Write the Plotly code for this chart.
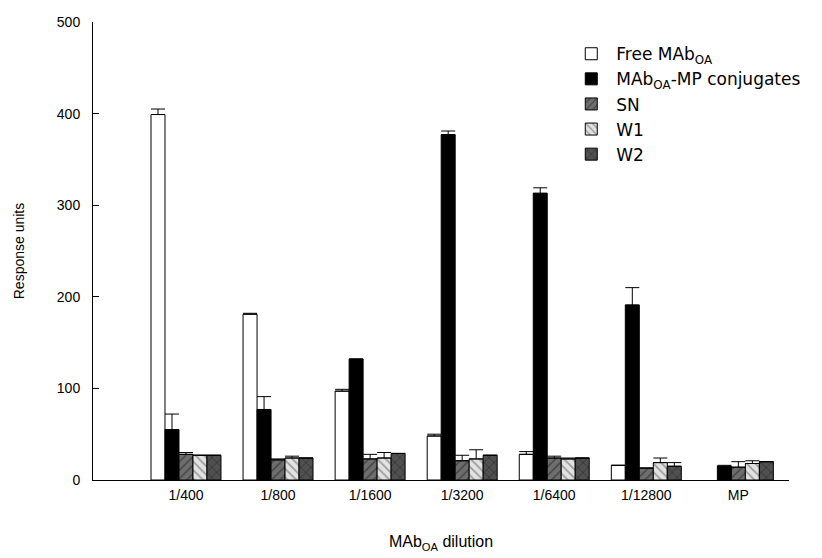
import plotly.graph_objects as go

# Dilutions of the monoclonal antibody (plus the MP control)
categories = ["1/400", "1/800", "1/1600", "1/3200", "1/6400", "1/12800", "MP"]

free_mab = [399, 181, 97, 48, 28, 16, None]
free_mab_err = [6, 1, 2, 2, 3, 0, 0]

conjugates = [55, 77, 132, 377, 313, 191, 15]
conjugates_err = [17, 14, 0, 4, 6, 19, 1]

sn = [28, 22, 23, 21, 24, 13, 14]
sn_err = [2, 1, 5, 6, 2, 0, 6]

w1 = [27, 24, 24, 23, 23, 19, 18]
w1_err = [0, 2, 6, 10, 1, 5, 3]

w2 = [27, 24, 29, 27, 24, 15, 20]
w2_err = [0, 0, 0, 0, 0, 4, 0]

series = [
    ("Free MAb<sub>OA</sub>", free_mab, free_mab_err,
     dict(color="white", pattern=dict(shape=""))),
    ("MAb<sub>OA</sub>-MP conjugates", conjugates, conjugates_err,
     dict(color="black", pattern=dict(shape=""))),
    ("SN", sn, sn_err,
     dict(color="#6e6e6e", pattern=dict(shape="/", fgcolor="#1a1a1a",
                                        bgcolor="#6e6e6e", size=6, solidity=0.25,
                                        fillmode="overlay"))),
    ("W1", w1, w1_err,
     dict(color="#e2e2e2", pattern=dict(shape="\\", fgcolor="#555555",
                                        bgcolor="#e2e2e2", size=6, solidity=0.3,
                                        fillmode="overlay"))),
    ("W2", w2, w2_err,
     dict(color="#505050", pattern=dict(shape="x", fgcolor="#111111",
                                        bgcolor="#505050", size=7, solidity=0.2,
                                        fillmode="overlay"))),
]

x_pos = list(range(len(categories)))

fig = go.Figure()
for name, vals, errs, mk in series:
    fig.add_trace(go.Bar(
        x=x_pos, y=vals, name=name,
        marker=dict(color=mk["color"], pattern=mk["pattern"],
                    line=dict(color="black", width=1)),
        error_y=dict(type="data", symmetric=False, array=errs,
                     arrayminus=[0] * len(errs), color="black",
                     thickness=1, width=7),
    ))

sans = "Liberation Sans, Arial, sans-serif"
wide_sans = "DejaVu Sans, Arial, sans-serif"

fig.update_layout(
    width=822, height=558,
    margin=dict(l=93, r=33, t=22, b=78),
    paper_bgcolor="white", plot_bgcolor="white",
    barmode="group", bargap=0.24, bargroupgap=0,
    font=dict(family=sans, size=14, color="black"),
    showlegend=True,
    legend=dict(x=0.68, y=0.969, xanchor="left", yanchor="top",
                bgcolor="rgba(0,0,0,0)", font=dict(family=wide_sans, size=17),
                tracegroupgap=0, itemwidth=40),
    xaxis=dict(
        range=[-1.01, 6.55], tickmode="array", tickvals=x_pos,
        ticktext=categories, showline=True, linecolor="black", linewidth=1,
        ticks="", showgrid=False, zeroline=False, automargin=False,
        ticklabelstandoff=2, tickfont=dict(size=14),
        title=dict(text="MAb<sub>OA</sub> dilution", standoff=34,
                   font=dict(size=16)),
    ),
    yaxis=dict(
        range=[0, 500], tickmode="array", tickvals=[0, 100, 200, 300, 400, 500],
        showline=True, linecolor="black", linewidth=1,
        ticks="inside", ticklen=6, tickcolor="black",
        showgrid=False, zeroline=False, automargin=False,
        ticklabelstandoff=9, tickfont=dict(size=14),
        title=dict(text="Response units", standoff=28, font=dict(size=14)),
    ),
)

fig.write_html("out.html")
